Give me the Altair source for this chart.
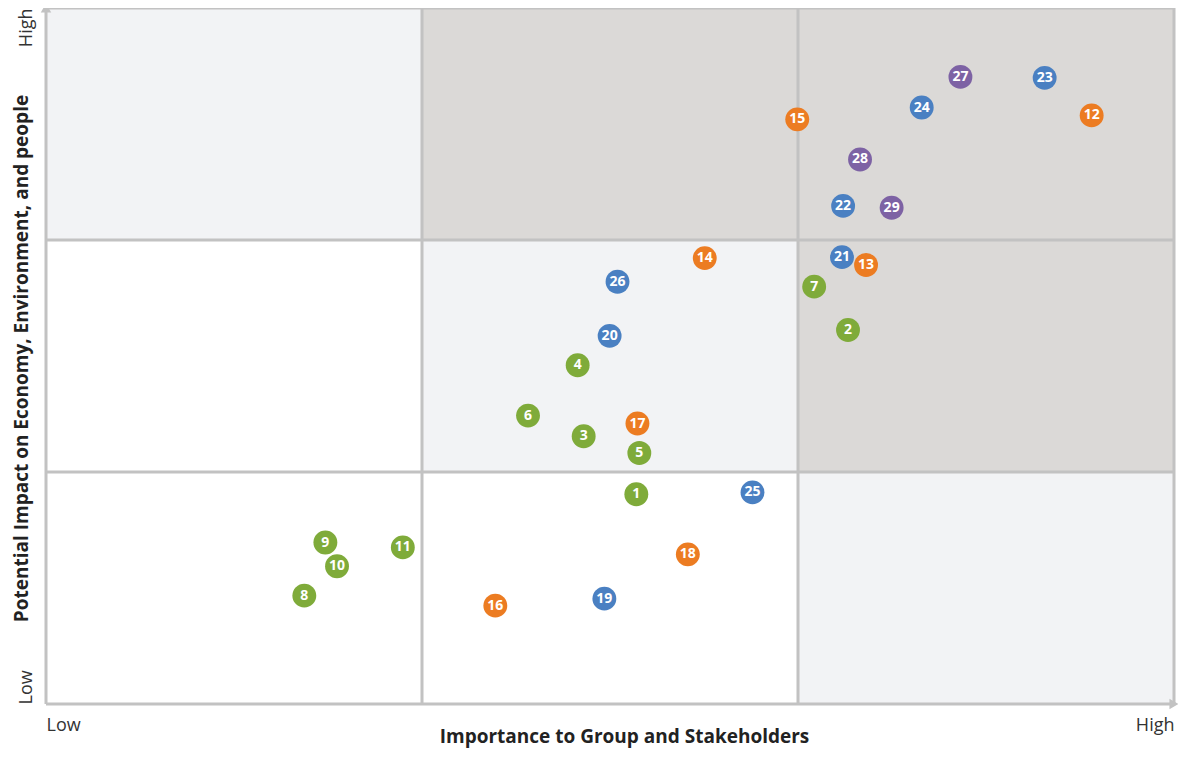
import altair as alt
import pandas as pd

ids = list(range(1, 30))
importance = [1.570, 2.133, 1.430, 1.414, 1.578, 1.282, 2.043, 0.687, 0.743, 0.774,
              0.949, 2.781, 2.181, 1.752, 1.998, 1.195, 1.573, 1.707, 1.485, 1.499,
              2.117, 2.120, 2.656, 2.329, 1.879, 1.520, 2.432, 2.165, 2.249]
impact = [0.904, 1.612, 1.154, 1.460, 1.082, 1.243, 1.799, 0.467, 0.696, 0.594,
          0.675, 2.537, 1.892, 1.922, 2.520, 0.424, 1.209, 0.645, 0.454, 1.587,
          1.926, 2.147, 2.699, 2.571, 0.912, 1.820, 2.703, 2.347, 2.139]
groups = ["g", "g", "g", "g", "g", "g", "g", "g", "g", "g",
          "g", "o", "o", "o", "o", "o", "o", "o", "b", "b",
          "b", "b", "b", "b", "b", "b", "p", "p", "p"]

cell_x = [0, 1, 2, 0, 1, 2, 0, 1, 2]
cell_y = [2, 2, 2, 1, 1, 1, 0, 0, 0]
cell_fill = ["#f2f3f5", "#dbd9d7", "#dbd9d7",
             "#ffffff", "#f2f3f5", "#dbd9d7",
             "#ffffff", "#ffffff", "#f2f3f5"]

group_keys = ["g", "o", "b", "p"]
group_colors = ["#7fab3a", "#ec7c22", "#4a80c2", "#7d62a4"]

pts = pd.DataFrame({"id": ids, "x": importance, "y": impact, "grp": groups})
cells = pd.DataFrame({"x": cell_x, "y": cell_y, "fill": cell_fill})
cells["x2"] = cells["x"] + 1
cells["y2"] = cells["y"] + 1

xs = alt.Scale(domain=[0, 3], nice=False, zero=False)
ys = alt.Scale(domain=[0, 3], nice=False, zero=False)

FONT = "Open Sans"
W, H = 1128, 696

xaxis = alt.Axis(values=[0, 3], labelExpr="datum.value == 0 ? 'Low' : 'High'",
                 labelAlign=alt.ExprRef(expr="datum.value == 0 ? 'left' : 'right'"),
                 labelFontSize=18, labelColor="#333333", labelFont=FONT,
                 labelPadding=12, domain=False, ticks=False, grid=False,
                 title="Importance to Group and Stakeholders", titleFont=FONT,
                 titleFontSize=19, titleFontWeight="bold", titleColor="#222222",
                 titleX=578, titleY=32, titleAlign="center", titleBaseline="middle")
yaxis = alt.Axis(values=[0, 3], labelExpr="datum.value == 0 ? 'Low' : 'High'",
                 labelAngle=270,
                 labelAlign=alt.ExprRef(expr="datum.value == 0 ? 'left' : 'right'"),
                 labelBaseline="middle",
                 labelFontSize=18, labelColor="#333333", labelFont=FONT,
                 labelPadding=20, domain=False, ticks=False, grid=False,
                 title="Potential Impact on Economy, Environment, and people",
                 titleFont=FONT, titleFontSize=19, titleFontWeight="bold",
                 titleColor="#222222", titleAngle=270, titleX=-25, titleY=350,
                 titleAlign="center", titleBaseline="middle")

bg = alt.Chart(cells).mark_rect(strokeWidth=0).encode(
    x=alt.X("x:Q", scale=xs, axis=xaxis),
    x2="x2:Q",
    y=alt.Y("y:Q", scale=ys, axis=yaxis),
    y2="y2:Q",
    fill=alt.Fill("fill:N", scale=None),
)

lines_v = alt.Chart(pd.DataFrame({"v": [0, 1, 2, 3]})).mark_rule(
    color="#c2c2c2", strokeWidth=3).encode(x=alt.X("v:Q", scale=xs))
lines_h = alt.Chart(pd.DataFrame({"v": [0, 1, 2, 3]})).mark_rule(
    color="#c2c2c2", strokeWidth=3).encode(y=alt.Y("v:Q", scale=ys))

arrows = alt.Chart(pd.DataFrame({"x": [0, 3], "y": [3, 0], "s": ["triangle-up", "triangle-right"]})).mark_point(
    filled=True, color="#c2c2c2", size=110, opacity=1, clip=False).encode(
    x=alt.X("x:Q", scale=xs), y=alt.Y("y:Q", scale=ys),
    shape=alt.Shape("s:N", scale=None))

dots = alt.Chart(pts).mark_circle(size=570, opacity=1).encode(
    x=alt.X("x:Q", scale=xs), y=alt.Y("y:Q", scale=ys),
    color=alt.Color("grp:N", scale=alt.Scale(domain=group_keys, range=group_colors), legend=None),
)
labels = alt.Chart(pts).mark_text(color="white", fontWeight="bold", fontSize=14,
                                  font=FONT, baseline="middle", align="center").encode(
    x=alt.X("x:Q", scale=xs), y=alt.Y("y:Q", scale=ys), text="id:N")

chart = alt.layer(bg, lines_v, lines_h, arrows, dots, labels).properties(
    width=W, height=H,
    autosize=alt.AutoSizeParams(type="none"),
    padding={"left": 38, "top": 0, "right": 4, "bottom": 44},
).configure_view(stroke=None).configure(background="white")

chart.save("out.html", embed_options={"renderer": "svg", "actions": False})
